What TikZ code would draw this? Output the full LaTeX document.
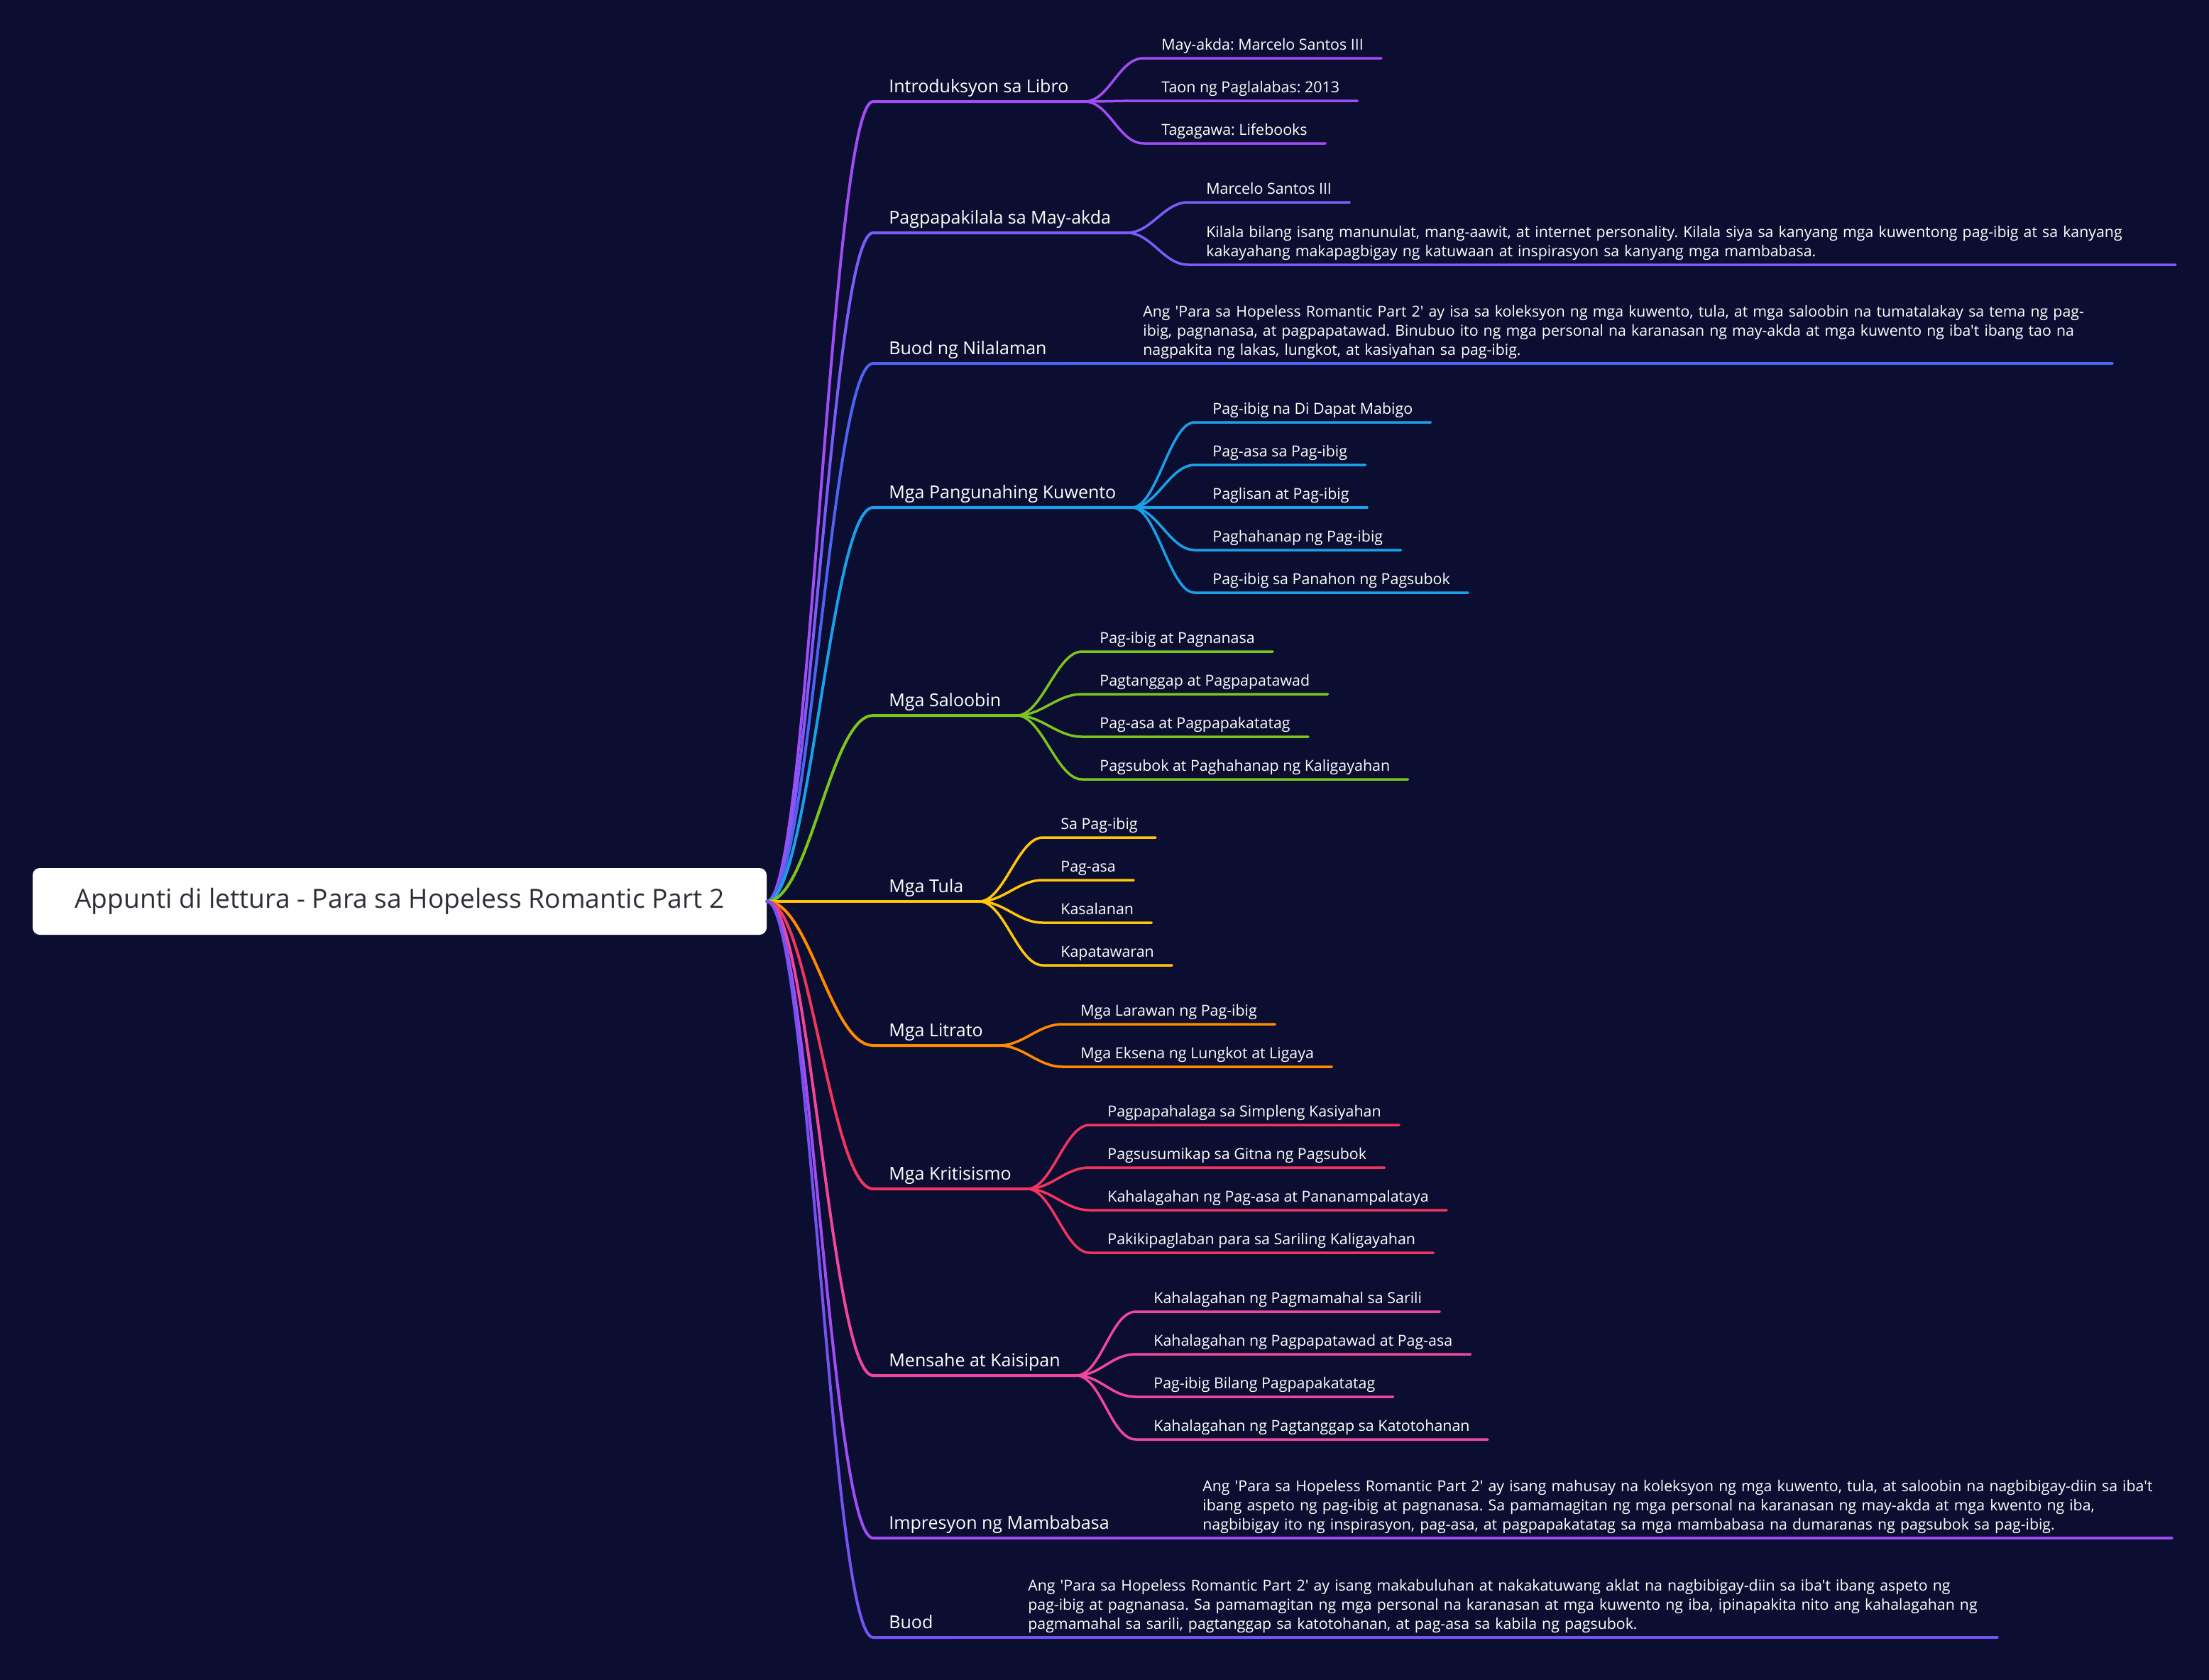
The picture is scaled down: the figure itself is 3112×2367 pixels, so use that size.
\documentclass[tikz,border=0pt]{standalone}
\usepackage{fontspec}
\setmainfont{Open Sans}[Ligatures=TeXOff]
\frenchspacing
\usetikzlibrary{positioning,calc}
\definecolor{night}{HTML}{0B0E30}
\definecolor{ink}{HTML}{2E2E38}
\definecolor{grape}{HTML}{A24CF6}
\definecolor{iris}{HTML}{7C5CF8}
\definecolor{cobalt}{HTML}{4F63F2}
\definecolor{sky}{HTML}{19A0E8}
\definecolor{lime}{HTML}{7CC41E}
\definecolor{gold}{HTML}{FFC60A}
\definecolor{amber}{HTML}{FF8A00}
\definecolor{crimson}{HTML}{F2355E}
\definecolor{rosy}{HTML}{F0479C}
\definecolor{lilac}{HTML}{7552F2}

\begin{document}
\begin{tikzpicture}[x=0.5pt,y=-0.5pt,
  root/.style={fill=white,text=ink,rounded corners=5pt,minimum width=517pt,minimum height=47pt,font=\fontsize{18.6}{23}\selectfont},
  topic/.style={anchor=south west,inner xsep=11pt,inner ysep=6pt,text depth=0pt,text=white,font=\fontsize{12.5}{15}\selectfont},
  leaf/.style={anchor=south west,inner xsep=12.5pt,inner ysep=5.5pt,text depth=0pt,text=white,font=\fontsize{10.7}{13.5}\selectfont},
  para/.style={anchor=south west,inner xsep=12.5pt,inner ysep=3pt,text=white,text width=670pt,align=left,font=\fontsize{10.65}{13.5}\selectfont},
  limb/.style={line width=2pt,line cap=round},
  twig/.style={line width=1.75pt,line cap=round}]
\fill[night] (0,0) rectangle (3112,2367);
\useasboundingbox (0,0) rectangle (3112,2367);

\node[root] (root) at (563,1270) {Appunti di lettura - Para sa Hopeless Romantic Part 2};

% main topics
\foreach \n/\y/\t in {intro/143/Introduksyon sa Libro, author/328/Pagpapakilala sa May-akda,
  summary/512/Buod ng Nilalaman, story/715/Mga Pangunahing Kuwento, mood/1008/Mga Saloobin,
  poem/1270/Mga Tula, photo/1473/Mga Litrato, critic/1675/Mga Kritisismo,
  message/1938/Mensahe at Kaisipan, review/2167/Impresyon ng Mambabasa, recap/2307/Buod}
{
  \node[topic] (\n) at (1230,\y) {\t};
}
\foreach \n/\c in {intro/grape,author/iris,summary/cobalt,story/sky,mood/lime,poem/gold,
  photo/amber,critic/crimson,message/rosy,review/grape,recap/lilac}
{
  \draw[limb,\c] (root.east) .. controls +(60,0) and +(-60,0) .. (\n.south west) -- (\n.south east);
}

% Introduksyon sa Libro
\foreach \y/\t [count=\i] in {82/{May-akda: Marcelo Santos III},142/{Taon ng Paglalabas: 2013},202/{Tagagawa: Lifebooks}}
{
  \node[leaf] (intro\i) at (1611,\y) {\t};
  \draw[twig,grape] (intro.south east) .. controls +(35,0) and +(-35,0) .. (intro\i.south west) -- (intro\i.south east);
}

% Pagpapakilala sa May-akda
\node[leaf] (author1) at (1674,285) {Marcelo Santos III};
\node[para] (author2) at (1674,373) {Kilala bilang isang manunulat, mang-aawit, at internet personality. Kilala siya sa kanyang mga kuwentong pag-ibig at sa kanyang\\
kakayahang makapagbigay ng katuwaan at inspirasyon sa kanyang mga mambabasa.};
\foreach \i in {1,2}
  \draw[twig,iris] (author.south east) .. controls +(35,0) and +(-35,0) .. (author\i.south west) -- (author\i.south east);

% Buod ng Nilalaman
\node[para] (summary1) at (1585,512) {Ang 'Para sa Hopeless Romantic Part 2' ay isa sa koleksyon ng mga kuwento, tula, at mga saloobin na tumatalakay sa tema ng pag-\\
ibig, pagnanasa, at pagpapatawad. Binubuo ito ng mga personal na karanasan ng may-akda at mga kuwento ng iba't ibang tao na\\
nagpakita ng lakas, lungkot, at kasiyahan sa pag-ibig.};
\draw[twig,cobalt] (summary.south east) -- (summary1.south west) -- (summary1.south east);

% Mga Pangunahing Kuwento
\foreach \y/\t [count=\i] in {595/Pag-ibig na Di Dapat Mabigo,655/Pag-asa sa Pag-ibig,715/Paglisan at Pag-ibig,
  775/Paghahanap ng Pag-ibig,835/Pag-ibig sa Panahon ng Pagsubok}
{
  \node[leaf] (story\i) at (1683,\y) {\t};
  \draw[twig,sky] (story.south east) .. controls +(35,0) and +(-35,0) .. (story\i.south west) -- (story\i.south east);
}

% Mga Saloobin
\foreach \y/\t [count=\i] in {918/Pag-ibig at Pagnanasa,978/Pagtanggap at Pagpapatawad,1038/Pag-asa at Pagpapakatatag,
  1098/Pagsubok at Paghahanap ng Kaligayahan}
{
  \node[leaf] (mood\i) at (1524,\y) {\t};
  \draw[twig,lime] (mood.south east) .. controls +(35,0) and +(-35,0) .. (mood\i.south west) -- (mood\i.south east);
}

% Mga Tula
\foreach \y/\t [count=\i] in {1180/Sa Pag-ibig,1240/Pag-asa,1300/Kasalanan,1360/Kapatawaran}
{
  \node[leaf] (poem\i) at (1469,\y) {\t};
  \draw[twig,gold] (poem.south east) .. controls +(35,0) and +(-35,0) .. (poem\i.south west) -- (poem\i.south east);
}

% Mga Litrato
\foreach \y/\t [count=\i] in {1443/Mga Larawan ng Pag-ibig,1503/Mga Eksena ng Lungkot at Ligaya}
{
  \node[leaf] (photo\i) at (1497,\y) {\t};
  \draw[twig,amber] (photo.south east) .. controls +(35,0) and +(-35,0) .. (photo\i.south west) -- (photo\i.south east);
}

% Mga Kritisismo
\foreach \y/\t [count=\i] in {1585/Pagpapahalaga sa Simpleng Kasiyahan,1645/Pagsusumikap sa Gitna ng Pagsubok,
  1705/Kahalagahan ng Pag-asa at Pananampalataya,1765/Pakikipaglaban para sa Sariling Kaligayahan}
{
  \node[leaf] (critic\i) at (1535,\y) {\t};
  \draw[twig,crimson] (critic.south east) .. controls +(35,0) and +(-35,0) .. (critic\i.south west) -- (critic\i.south east);
}

% Mensahe at Kaisipan
\foreach \y/\t [count=\i] in {1848/Kahalagahan ng Pagmamahal sa Sarili,1908/Kahalagahan ng Pagpapatawad at Pag-asa,
  1968/Pag-ibig Bilang Pagpapakatatag,2028/Kahalagahan ng Pagtanggap sa Katotohanan}
{
  \node[leaf] (message\i) at (1600,\y) {\t};
  \draw[twig,rosy] (message.south east) .. controls +(35,0) and +(-35,0) .. (message\i.south west) -- (message\i.south east);
}

% Impresyon ng Mambabasa
\node[para] (review1) at (1669,2167) {Ang 'Para sa Hopeless Romantic Part 2' ay isang mahusay na koleksyon ng mga kuwento, tula, at saloobin na nagbibigay-diin sa iba't\\
ibang aspeto ng pag-ibig at pagnanasa. Sa pamamagitan ng mga personal na karanasan ng may-akda at mga kwento ng iba,\\
nagbibigay ito ng inspirasyon, pag-asa, at pagpapakatatag sa mga mambabasa na dumaranas ng pagsubok sa pag-ibig.};
\draw[twig,grape] (review.south east) -- (review1.south west) -- (review1.south east);

% Buod
\node[para] (recap1) at (1423,2307) {Ang 'Para sa Hopeless Romantic Part 2' ay isang makabuluhan at nakakatuwang aklat na nagbibigay-diin sa iba't ibang aspeto ng\\
pag-ibig at pagnanasa. Sa pamamagitan ng mga personal na karanasan at mga kuwento ng iba, ipinapakita nito ang kahalagahan ng\\
pagmamahal sa sarili, pagtanggap sa katotohanan, at pag-asa sa kabila ng pagsubok.};
\draw[twig,lilac] (recap.south east) -- (recap1.south west) -- (recap1.south east);
\end{tikzpicture}
\end{document}
